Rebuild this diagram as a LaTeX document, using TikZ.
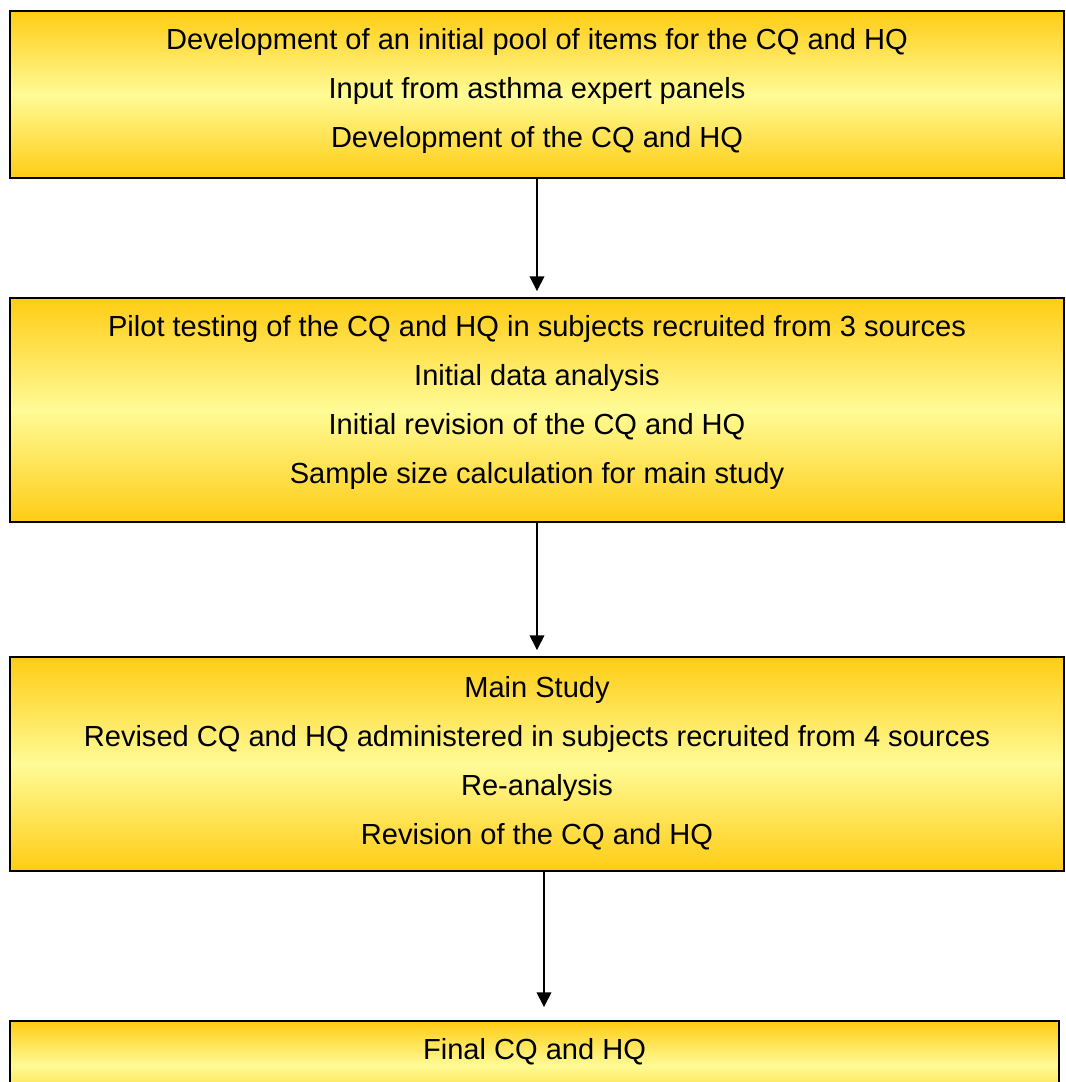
\documentclass[tikz,border=0pt]{standalone}
\usepackage{fontspec}
\setmainfont{Liberation Sans}
\usepackage{tikz}
\usetikzlibrary{arrows.meta,positioning}

\definecolor{stageGold}{HTML}{FFCC14}
\definecolor{stagePale}{HTML}{FFFB96}

\tikzset{
  stagebox/.style={draw=black, line width=1.4pt, rectangle, inner sep=0pt,
    top color=stageGold, bottom color=stageGold, middle color=stagePale},
  stagetext/.style={inner sep=0pt, align=center,
    font=\fontsize{21.8}{36.75}\selectfont},
  flowarrow/.style={line width=1pt, -{Triangle[length=11pt,width=11pt]}}
}

\begin{document}
\begin{tikzpicture}[x=0.75pt,y=-0.75pt]

        % picture frame (pixels of the reference)
        \useasboundingbox (0,0) rectangle (1065,1082);
        \clip (0,0) rectangle (1065,1082);

        % Define box dimensions (pt)
        \def\boxWidth{790.5pt}
        \def\textGap{13.5pt} % from box top to first line

        % Draw the four stages
        \node[stagebox, minimum width=\boxWidth, minimum height=125.25pt] (dev) at (537,94.5) {};
        \node[stagebox, minimum width=\boxWidth, minimum height=168pt] (pilot) at (537,410) {};
        \node[stagebox, minimum width=\boxWidth, minimum height=160.5pt] (main) at (537,764) {};
        \node[stagebox, minimum width=786.75pt, minimum height=66.75pt] (final) at (534.5,1065.5) {};

        % Texts of the stages
        \node[stagetext, below=\textGap of dev.north] (devtext) {Development of an initial pool of items for the CQ and HQ\\
            Input from asthma expert panels\\
            Development of the CQ and HQ};
        \node[stagetext, below=\textGap of pilot.north] (pilottext) {Pilot testing of the CQ and HQ in subjects recruited from 3 sources\\
            Initial data analysis\\
            Initial revision of the CQ and HQ\\
            Sample size calculation for main study};
        \node[stagetext, below=15pt of main.north] (maintext) {Main Study\\
            Revised CQ and HQ administered in subjects recruited from 4 sources\\
            Re-analysis\\
            Revision of the CQ and HQ};
        \node[stagetext, below=\textGap of final.north] (finaltext) {Final CQ and HQ};

        % Arrows between the stages
        \draw[flowarrow, shorten >=4.5pt] (dev.south) -- (pilot.north);
        \draw[flowarrow, shorten >=4.5pt] (pilot.south) -- (main.north);
        \draw[flowarrow, shorten >=9.75pt] ([xshift=5.25pt]main.south) -- ([xshift=5.25pt]main.south |- final.north);

    \end{tikzpicture}
\end{document}
